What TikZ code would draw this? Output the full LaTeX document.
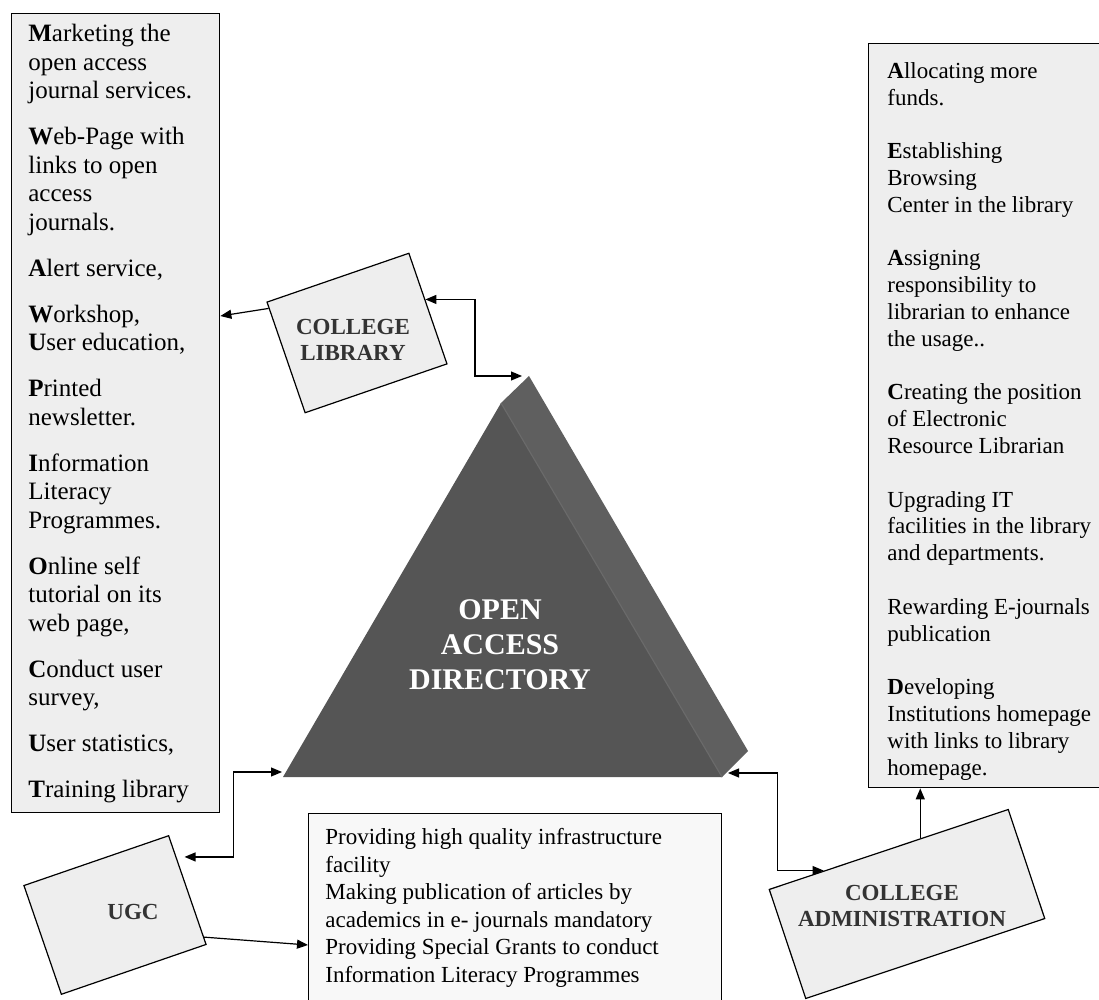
\documentclass[tikz,border=0pt]{standalone}
\usepackage{fontspec}
\setmainfont{Liberation Serif}
\usetikzlibrary{arrows.meta,calc}
\definecolor{boxgray}{HTML}{EEEEEE}
\definecolor{notegray}{HTML}{F8F8F8}
\definecolor{facegray}{HTML}{555555}
\definecolor{sidegray}{HTML}{5F5F5F}
\definecolor{edgegray}{HTML}{6A6A6A}
\definecolor{actorgray}{HTML}{333333}

\begin{document}
\begin{tikzpicture}[x=0.5pt, y=-0.5pt,
    listbox/.style={draw, line width=0.7pt, fill=boxgray, inner sep=0pt, anchor=north west},
    listtext/.style={anchor=north west, inner sep=0pt, align=left},
    actor/.style={draw, line width=0.6pt, fill=boxgray, inner sep=0pt, rotate=19},
    actorname/.style={font=\fontsize{11.5}{13.25}\selectfont\bfseries, text=actorgray, align=center, inner sep=0pt},
    tip/.style={-{Triangle[length=5.5pt,width=4.5pt]}, line width=0.6pt},
    twotip/.style={{Triangle[length=5.5pt,width=4.5pt]}-{Triangle[length=5.5pt,width=4.5pt]}, line width=0.6pt}
  ]
  \useasboundingbox (0,0) rectangle (1099,1000);

  % boxes with the lists of measures
  \node [listbox, minimum width=104pt, minimum height=399.5pt] (promote) at (11,13) {};
  \node [listtext, font=\fontsize{12.5}{14.25}\selectfont] (promotetext) at (28,24)
    {\textbf{M}arketing the\\open access\\journal services.\\[8.75pt]
     \textbf{W}eb-Page with\\links to open\\access\\journals.\\[8.75pt]
     \textbf{A}lert service,\\[8.75pt]
     \textbf{W}orkshop,\\\textbf{U}ser education,\\[8.75pt]
     \textbf{P}rinted\\newsletter.\\[8.75pt]
     \textbf{I}nformation\\Literacy\\Programmes.\\[8.75pt]
     \textbf{O}nline self\\tutorial on its\\web page,\\[8.75pt]
     \textbf{C}onduct user\\survey,\\[8.75pt]
     \textbf{U}ser statistics,\\[8.75pt]
     \textbf{T}raining library};

  \node [listbox, minimum width=125pt, minimum height=372pt] (measures) at (868,43) {};
  \node [listtext, font=\fontsize{11.5}{13.4}\selectfont] (measurestext) at (887,62)
    {\textbf{A}llocating more\\funds.\\[13.4pt]
     \textbf{E}stablishing\\Browsing\\Center in the library\\[13.4pt]
     \textbf{A}ssigning\\responsibility to\\librarian to enhance\\the usage..\\[13.4pt]
     \textbf{C}reating the position\\of Electronic\\Resource Librarian\\[13.4pt]
     Upgrading IT\\facilities in the library\\and departments.\\[13.4pt]
     Rewarding E-journals\\publication\\[13.4pt]
     \textbf{D}eveloping\\Institutions homepage\\with links to library\\homepage.};

  \node [listbox, fill=notegray, minimum width=206.5pt, minimum height=100pt] (grants) at (308,813) {};
  \node [listtext, font=\fontsize{11.5}{13.75}\selectfont] (grantstext) at (325,828)
    {Providing high quality infrastructure\\facility\\Making publication of articles by\\academics in e- journals mandatory\\Providing Special Grants to conduct\\Information Literacy Programmes};

  % the pyramid
  \coordinate (front-top) at (501,403);
  \coordinate (front-left) at (283,777);
  \coordinate (front-right) at (722,777);
  \coordinate (back-top) at (529,376);
  \coordinate (back-right) at (748,751);
  \fill [sidegray] (front-top) -- (back-top) -- (back-right) -- (front-right) -- cycle;
  \fill [facegray] (front-top) -- (front-right) -- (front-left) -- cycle;
  \draw [edgegray, line width=0.6pt] (front-top) -- (front-right);
  \node [font=\fontsize{15}{17.5}\selectfont\bfseries, text=white, align=center] (oad) at (500,645) {OPEN\\ACCESS\\DIRECTORY};

  % the actors
  \node [actor, minimum width=75pt, minimum height=58.5pt] (lib) at (357,333) {};
  \node [actorname] (libname) at (353,340) {COLLEGE\\LIBRARY};
  \node [actor, minimum width=76.5pt, minimum height=57.5pt] (ugc) at (115,915) {};
  \node [actorname] (ugcname) at (133,912) {UGC};
  \node [actor, rotate=-0.5, minimum width=126pt, minimum height=57.5pt] (adm) at (907,904) {};
  \node [actorname] (admname) at (902,906) {COLLEGE\\ADMINISTRATION};

  % connectors
  \coordinate (lib-out) at ($(lib.north west)!0.06!(lib.south west)$);
  \draw [tip] (lib-out) -- (promote.east |- 0,316);
  \coordinate (lib-in) at ($(lib.north east)!0.42!(lib.south east)$);
  \draw [twotip] (lib-in) -| ($(back-top)+(-54,0)$) -- ($(back-top)+(-7,0)$);

  \coordinate (ugc-in) at ($(ugc.north east)!0.2!(ugc.south east)$);
  \draw [twotip, shorten >=4pt] ($(front-left)+(-1,-5)$) -| ($(ugc-in)+(57,0)$) -- (ugc-in);
  \coordinate (ugc-out) at ($(ugc.north east)!0.93!(ugc.south east)$);
  \draw [tip] (ugc-out) -- (grants.west |- 0,945);

  \coordinate (adm-in) at ($(adm.north west)!0.23!(adm.north east)$);
  \draw [twotip] ($(front-right)+(6,-4)$) -| ($(adm-in)+(-46,0)$) -- (adm-in);
  \coordinate (adm-out) at ($(adm.north west)!0.632!(adm.north east)$);
  \draw [tip] (adm-out) -- (adm-out |- measures.south);
\end{tikzpicture}
\end{document}
